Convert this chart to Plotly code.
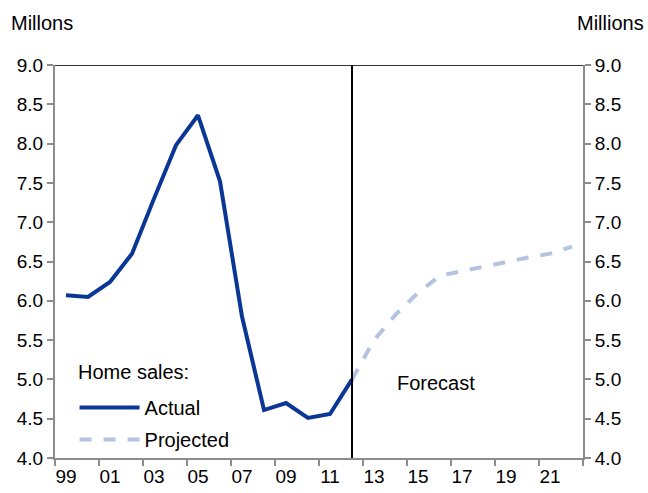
import plotly.graph_objects as go

years = ["99", "00", "01", "02", "03", "04", "05", "06", "07", "08", "09", "10",
         "11", "12", "13", "14", "15", "16", "17", "18", "19", "20", "21", "22"]
actual = [6.07, 6.05, 6.24, 6.60, 7.30, 7.98, 8.36, 7.52, 5.80, 4.61, 4.70, 4.51, 4.56, 5.00]
projected = [5.00, 5.50, 5.83, 6.10, 6.32, 6.38, 6.43, 6.49, 6.55, 6.60, 6.69]
y_ticks = [4.0, 4.5, 5.0, 5.5, 6.0, 6.5, 7.0, 7.5, 8.0, 8.5, 9.0]

actual_x = years[:len(actual)]
proj_x = years[len(actual) - 1:len(actual) - 1 + len(projected)]
forecast_idx = len(actual) - 1

FONT = "Liberation Sans, Arial, sans-serif"
AXIS_GREY = "#8c8c8c"
TICK_SIZE = 19
TEXT_SIZE = 20

fig = go.Figure()
fig.add_trace(go.Scatter(x=actual_x, y=actual, mode="lines", name="Actual", legendgroup="a",
                         line=dict(color="#0a3796", width=4), xaxis="x", yaxis="y"))
fig.add_trace(go.Scatter(x=proj_x, y=projected, mode="lines", name="Projected", legendgroup="p",
                         line=dict(color="#b4c3e1", width=4, dash="dash"), xaxis="x", yaxis="y"))
# invisible trace to activate right axis
fig.add_trace(go.Scatter(x=[years[0]], y=[y_ticks[0]], mode="markers", showlegend=False,
                         marker=dict(opacity=0), hoverinfo="skip", yaxis="y2"))

axis_common = dict(ticks="outside", ticklen=6, tickcolor=AXIS_GREY, tickwidth=2,
                   showline=True, linecolor=AXIS_GREY, linewidth=2,
                   showgrid=False, zeroline=False, automargin=False,
                   tickfont=dict(size=TICK_SIZE))

fig.update_layout(
    width=648, height=493,
    margin=dict(l=55, r=65, t=65, b=35),
    paper_bgcolor="white", plot_bgcolor="white",
    font=dict(family=FONT, size=TEXT_SIZE, color="black"),
    xaxis=dict(type="category", categoryorder="array", categoryarray=years,
               range=[-0.5, len(years) - 0.5],
               tickson="boundaries", dtick=2, tick0=0, tickangle=0,
               **axis_common),
    yaxis=dict(range=[4, 9], tickvals=y_ticks, tickformat=".1f", **axis_common),
    yaxis2=dict(range=[4, 9], tickvals=y_ticks, tickformat=".1f", overlaying="y", side="right",
                **axis_common),
    legend=dict(x=0.037, y=0.178, xanchor="left", yanchor="top",
                font=dict(size=TEXT_SIZE), bgcolor="rgba(0,0,0,0)", itemwidth=60,
                tracegroupgap=3),
    showlegend=True,
)

# top border
fig.add_shape(type="line", xref="paper", yref="y", x0=0, x1=1, y0=y_ticks[-1], y1=y_ticks[-1],
              line=dict(color="#333333", width=2))
# forecast divider
fig.add_shape(type="line", xref="x", yref="paper", x0=forecast_idx, x1=forecast_idx, y0=0, y1=1,
              line=dict(color="black", width=2))

fig.add_annotation(text="Home sales:", xref="paper", yref="paper", x=0.0398, y=0.22,
                   xanchor="left", yanchor="middle", showarrow=False, font=dict(size=TEXT_SIZE))
fig.add_annotation(text="Forecast", x=forecast_idx + 3.8, y=4.95, xref="x", yref="y",
                   showarrow=False, font=dict(size=TEXT_SIZE))
fig.add_annotation(text="Millons", xref="paper", yref="paper", x=-0.088, y=1.107,
                   xanchor="left", yanchor="middle", showarrow=False, font=dict(size=TEXT_SIZE))
fig.add_annotation(text="Millions", xref="paper", yref="paper", x=1.12, y=1.107,
                   xanchor="right", yanchor="middle", showarrow=False, font=dict(size=TEXT_SIZE))

fig.write_html("out.html")
